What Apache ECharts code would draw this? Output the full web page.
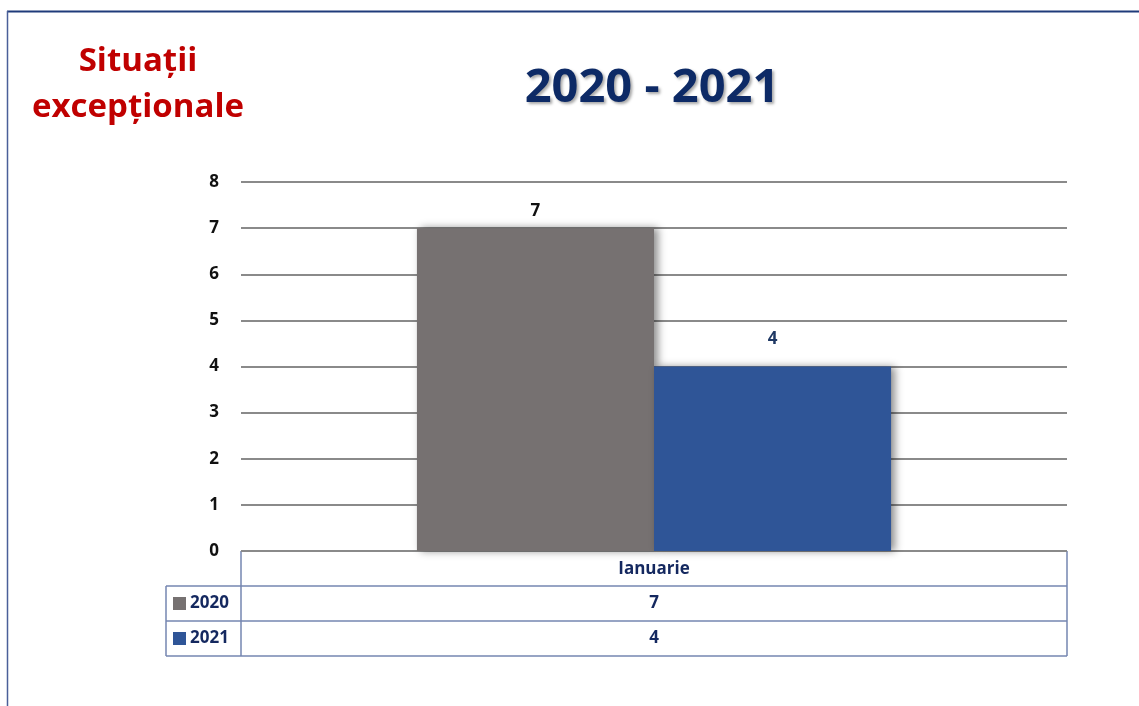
<!DOCTYPE html>
<html><head><meta charset="utf-8">
<script src="https://cdn.jsdelivr.net/npm/echarts@6/dist/echarts.min.js"></script>
<style>html,body{margin:0;padding:0;background:#fff}#c{width:1139px;height:706px}</style>
</head><body><div id="c"></div>
<script>
const categories = ['Ianuarie'];
const seriesNames = ['2020', '2021'];
const values2020 = [7];
const values2021 = [4];
const yTicks = [0, 1, 2, 3, 4, 5, 6, 7, 8];

const colors = ['#767171', '#2f5597'];
const labelColors = ['#111111', '#1f3864'];
const labelDistances = [8, 19];
const navy = '#14285f';
const tableLine = '#7486b0';
const FONT = 'Open Sans';
const FS = 17;

const G = {left: 241, right: 72, top: 182, bottom: 155};
const W = 1139, H = 706;
const gx0 = G.left, gx1 = W - G.right, gy1 = H - G.bottom;
const rowH = 35, keyX = 166;

const chart = echarts.init(document.getElementById('c'), null, {renderer: 'canvas'});
const allVals = [values2020, values2021];

const graphics = [
  {type: 'line', shape: {x1: 7, y1: 11.5, x2: W, y2: 11.5}, style: {stroke: '#1f3b7a', lineWidth: 2}},
  {type: 'line', shape: {x1: 7.5, y1: 11, x2: 7.5, y2: H}, style: {stroke: '#4a5f99', lineWidth: 1.5}},
  {type: 'text', x: 138, y: 62, style: {text: 'Situații', font: 'bold 33px "' + FONT + '"', fill: '#c00000', align: 'center', verticalAlign: 'middle'}},
  {type: 'text', x: 138, y: 108, style: {text: 'excepționale', font: 'bold 33px "' + FONT + '"', fill: '#c00000', align: 'center', verticalAlign: 'middle'}},
  {type: 'line', shape: {x1: gx0, y1: gy1, x2: gx1, y2: gy1}, style: {stroke: tableLine, lineWidth: 1.5}},
  {type: 'line', shape: {x1: gx0, y1: gy1, x2: gx0, y2: gy1 + rowH * 3}, style: {stroke: tableLine, lineWidth: 1.5}},
  {type: 'line', shape: {x1: gx1, y1: gy1, x2: gx1, y2: gy1 + rowH * 3}, style: {stroke: tableLine, lineWidth: 1.5}},
  {type: 'line', shape: {x1: keyX, y1: gy1 + rowH, x2: keyX, y2: gy1 + rowH * 3}, style: {stroke: tableLine, lineWidth: 1.5}}
];
for (let r = 1; r <= 3; r++) {
  graphics.push({type: 'line', shape: {x1: keyX, y1: gy1 + rowH * r, x2: gx1, y2: gy1 + rowH * r}, style: {stroke: tableLine, lineWidth: 1.5}});
}
seriesNames.forEach((name, i) => {
  const cy = gy1 + rowH * (i + 1) + rowH / 2;
  graphics.push({type: 'rect', shape: {x: 173, y: cy - 6.5, width: 13, height: 13}, style: {fill: colors[i]}});
  graphics.push({type: 'text', x: 190, y: cy, style: {text: name, font: 'bold ' + FS + 'px "' + FONT + '"', fill: navy, verticalAlign: 'middle'}});
  categories.forEach((c, j) => {
    const cw = (gx1 - gx0) / categories.length;
    graphics.push({type: 'text', x: gx0 + cw * (j + 0.5), y: cy, style: {text: String(allVals[i][j]), font: 'bold ' + FS + 'px "' + FONT + '"', fill: navy, align: 'center', verticalAlign: 'middle'}});
  });
});

chart.setOption({
  animation: false,
  backgroundColor: '#fff',
  title: {
    text: '2020 - 2021', left: 647, top: 84, textAlign: 'center', textVerticalAlign: 'middle',
    textStyle: {fontFamily: FONT, fontWeight: 'bold', fontSize: 47, color: '#0d2a66',
      textShadowColor: 'rgba(0,0,0,0.35)', textShadowBlur: 3, textShadowOffsetX: 2, textShadowOffsetY: 2}
  },
  grid: {left: G.left, right: G.right, top: G.top, bottom: G.bottom, containLabel: false},
  xAxis: {
    type: 'category', data: categories,
    axisLine: {show: false}, axisTick: {show: false},
    axisLabel: {fontFamily: FONT, fontWeight: 'bold', fontSize: FS, color: navy, margin: 10}
  },
  yAxis: {
    type: 'value', min: 0, max: yTicks[yTicks.length - 1], interval: 1,
    axisLine: {show: false}, axisTick: {show: false},
    axisLabel: {fontFamily: FONT, fontWeight: 'bold', fontSize: FS, color: '#111', margin: 22},
    splitLine: {lineStyle: {color: '#8a8a8a', width: 2}}
  },
  series: seriesNames.map((name, i) => ({
    name, type: 'bar', data: allVals[i],
    barGap: '0%', barCategoryGap: '42.6%',
    itemStyle: {color: colors[i], shadowColor: 'rgba(0,0,0,0.45)', shadowBlur: 8, shadowOffsetX: 4, shadowOffsetY: 0},
    label: {show: true, position: 'top', distance: labelDistances[i], fontFamily: FONT, fontWeight: 'bold', fontSize: FS, color: labelColors[i]},
    z: 2 + i
  })),
  graphic: graphics
});
</script></body></html>
